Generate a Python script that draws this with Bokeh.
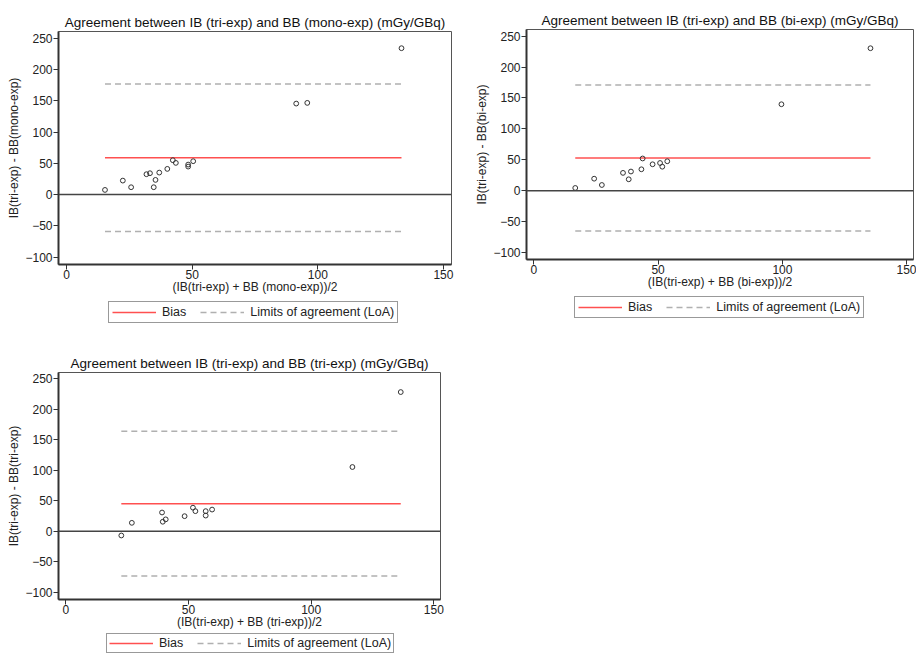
from bokeh.plotting import figure
from bokeh.models import Legend, LegendItem, Range1d, Span, FixedTicker
from bokeh.layouts import column, row
from bokeh.embed import file_html
from bokeh.resources import INLINE

FONT = "Liberation Sans"

# Panel 1: IB (tri-exp) vs BB (mono-exp)
mono_mean = [15.3, 22.4, 25.7, 31.8, 33.2, 35.4, 34.7, 36.9, 40.1, 42.3, 43.5, 48.4, 48.4, 50.4, 91.4, 95.8, 133.3]
mono_diff = [7.5, 22.4, 11.8, 32.6, 34.2, 23.5, 11.8, 35.2, 41.1, 55.0, 50.7, 48.0, 44.8, 53.4, 145.5, 146.6, 234.0]
mono_bias = 59.1
mono_loa = [-59.1, 176.9]

# Panel 2: IB (tri-exp) vs BB (bi-exp)
bi_mean = [16.7, 24.3, 27.4, 35.9, 39.1, 38.2, 43.3, 43.8, 47.8, 50.8, 51.7, 53.7, 99.6, 135.4]
bi_diff = [4.4, 19.4, 9.2, 28.8, 31.0, 18.4, 34.6, 52.1, 42.7, 44.8, 38.8, 47.6, 139.8, 230.4]
bi_bias = 52.9
bi_loa = [-65.2, 171.0]

# Panel 3: IB (tri-exp) vs BB (tri-exp)
tri_mean = [22.6, 26.9, 39.2, 39.5, 40.7, 48.4, 51.8, 52.8, 57.0, 57.0, 59.6, 116.8, 136.5]
tri_diff = [-6.8, 13.9, 30.8, 15.7, 19.6, 24.8, 38.7, 33.0, 33.0, 25.8, 35.6, 105.2, 227.8]
tri_bias = 45.1
tri_loa = [-73.1, 163.6]

x_ticks = [0, 50, 100, 150]
y_ticks = [-100, -50, 0, 50, 100, 150, 200, 250]
legend_labels = ["Bias", "Limits of agreement (LoA)"]

BIAS_STYLE = dict(line_color="#ff5050", line_width=1.5)
LOA_STYLE = dict(line_color="#b0b0b0", line_width=1.5, line_dash="6 4")


def panel(title, xlabel, ylabel, mean, diff, bias, loa, xr, yr, fw, fh, bl, br, bt, bb):
    p = figure(frame_width=fw, frame_height=fh,
               min_border_left=bl, min_border_right=br,
               min_border_top=bt, min_border_bottom=bb,
               x_range=Range1d(*xr), y_range=Range1d(*yr),
               output_backend="svg", toolbar_location=None, background_fill_color="white",
               border_fill_color="white")
    p.title.text = title
    p.title.align = "center"
    p.title.text_font = FONT
    p.title.text_font_size = "13.5px"
    p.title.text_font_style = "normal"
    p.title.text_color = "#111111"
    p.title.standoff = 3
    p.xgrid.visible = False
    p.ygrid.visible = False
    p.outline_line_color = "#555555"
    p.outline_line_width = 1
    p.xaxis.ticker = FixedTicker(ticks=x_ticks)
    p.yaxis.ticker = FixedTicker(ticks=y_ticks)
    for ax in (p.xaxis[0], p.yaxis[0]):
        ax.axis_line_width = 2
        ax.axis_line_color = "#333333"
        ax.major_tick_line_color = "#333333"
        ax.major_tick_out = 5
        ax.major_tick_in = 0
        ax.minor_tick_out = 0
        ax.minor_tick_in = 0
        ax.major_label_text_font = FONT
        ax.major_label_text_font_size = "12px"
        ax.major_label_text_color = "#222222"
        ax.major_label_standoff = 1
        ax.axis_label_text_font = FONT
        ax.axis_label_text_font_size = "12px"
        ax.axis_label_text_font_style = "normal"
        ax.axis_label_text_color = "#222222"
    p.xaxis[0].major_label_standoff = 0
    p.xaxis[0].axis_label_standoff = -2
    p.yaxis[0].axis_label_standoff = 1
    p.xaxis.axis_label = xlabel
    p.yaxis.axis_label = ylabel

    p.add_layout(Span(location=0, dimension="width", line_color="#444444", line_width=1.5))
    xs = [min(mean), max(mean)]
    p.line(xs, [bias, bias], **BIAS_STYLE)
    for v in loa:
        p.line(xs, [v, v], **LOA_STYLE)
    p.scatter(mean, diff, marker="circle", size=4.8, fill_color=None, line_color="#333333", line_width=1)
    return p


def legend_strip(mean, bias, loa, width, height, lx, ly, pad):
    # legend-only strip (frame aligned with the panel above); its lines carry the panel's
    # data, which lies outside this strip's ranges, so only the legend samples show
    f = figure(width=width, height=height, min_border=0,
               min_border_left=0, min_border_right=0, min_border_top=0, min_border_bottom=0,
               title=None, x_axis_location=None, y_axis_location=None,
               x_range=Range1d(-1000, -999), y_range=Range1d(-1000, -999),
               output_backend="svg", toolbar_location=None,
               background_fill_color="white", border_fill_color="white")
    f.grid.visible = False
    f.outline_line_color = None
    xs = [min(mean), max(mean)]
    r_bias = f.line(xs, [bias, bias], **BIAS_STYLE)
    r_loa = f.line(xs, [loa[0], loa[0]], **LOA_STYLE)
    leg = Legend(items=[LegendItem(label=legend_labels[0], renderers=[r_bias]),
                        LegendItem(label=legend_labels[1], renderers=[r_loa])],
                 orientation="horizontal", location=(lx, ly),
                 border_line_color="#333333", border_line_width=1.5,
                 background_fill_color="white", background_fill_alpha=1,
                 glyph_width=44, glyph_height=14,
                 label_standoff=6, spacing=14, padding=pad, margin=0,
                 label_text_font=FONT, label_text_font_size="12.5px", label_text_color="#222222")
    f.add_layout(leg, "center")
    return f


p1 = panel("Agreement between IB (tri-exp) and BB (mono-exp) (mGy/GBq)",
           "(IB(tri-exp) + BB (mono-exp))/2", "IB(tri-exp) - BB(mono-exp)",
           mono_mean, mono_diff, mono_bias, mono_loa,
           (-3.2, 153.2), (-111.7, 260.7), 393, 233, 58, 9, 31, 34)
l1 = legend_strip(mono_mean, mono_bias, mono_loa, 460, 37, 50, 12, 3)

p2 = panel("Agreement between IB (tri-exp) and BB (bi-exp) (mGy/GBq)",
           "(IB(tri-exp) + BB (bi-exp))/2", "IB(tri-exp) - BB(bi-exp)",
           bi_mean, bi_diff, bi_bias, bi_loa,
           (-2.9, 152.7), (-111.3, 260.7), 387, 230, 66, 3, 29, 34)
l2 = legend_strip(bi_mean, bi_bias, bi_loa, 456, 42, 48, 17, 3)

p3 = panel("Agreement between IB (tri-exp) and BB (tri-exp) (mGy/GBq)",
           "(IB(tri-exp) + BB (tri-exp))/2", "IB(tri-exp) - BB(tri-exp)",
           tri_mean, tri_diff, tri_bias, tri_loa,
           (-3.0, 152.7), (-111.5, 259.8), 382, 227, 58, 5, 37, 34)
l3 = legend_strip(tri_mean, tri_bias, tri_loa, 445, 21, 48, 1, 2)

layout = column(row(column(p1, l1), column(p2, l2)), column(p3, l3))
open("out.html", "w").write(file_html(layout, INLINE))
